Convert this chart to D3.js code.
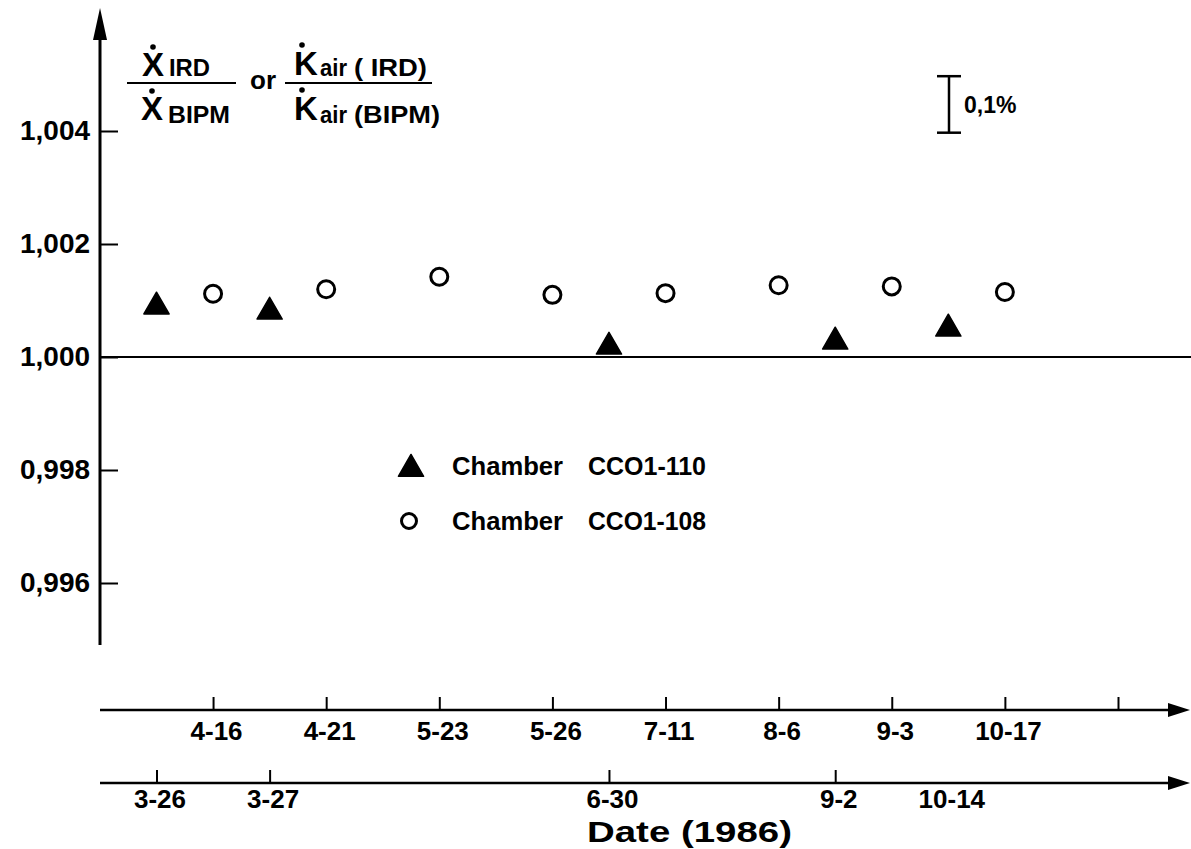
<!DOCTYPE html>
<html>
<head>
<meta charset="utf-8">
<script src="https://cdn.jsdelivr.net/npm/d3@7"></script>
<style>
  html, body { margin: 0; padding: 0; background: #fff; }
  svg { display: block; font-family: "Liberation Sans", Arial, Helvetica, sans-serif; }
</style>
</head>
<body>
<svg id="chart"></svg>
<script>
// y axis ticks
const yTickValues = [0.996, 0.998, 1.000, 1.002, 1.004];

// date axes: positions are measurement slots (order of the measurements)
const upperSlots = [1, 3, 5, 7, 9, 11, 13, 15, 17];
const upperLabels = ["4-16", "4-21", "5-23", "5-26", "7-11", "8-6", "9-3", "10-17", ""];
const lowerSlots = [0, 2, 8, 12, 14];
const lowerLabels = ["3-26", "3-27", "6-30", "9-2", "10-14"];
const lowerTickDrawn = [true, true, true, true, false];

// Chamber CCO1-110 (filled triangles)
const ch110Dates = ["3-26", "3-27", "6-30", "9-2", "10-14"];
const ch110Slots = [0, 2, 8, 12, 14];
const ch110Values = [1.00089, 1.00080, 1.00018, 1.00027, 1.00050];

// Chamber CCO1-108 (open circles)
const ch108Dates = ["4-16", "4-21", "5-23", "5-26", "7-11", "8-6", "9-3", "10-17"];
const ch108Slots = [1, 3, 5, 7, 9, 11, 13, 15];
const ch108Values = [1.00112, 1.00120, 1.00142, 1.00110, 1.00113, 1.00127, 1.00125, 1.00115];

const width = 1191, height = 849;
const axisX = 100;
const upperAxisY = 710, lowerAxisY = 783;
const fontBold = "bold";

const svg = d3.select("#chart")
    .attr("width", width)
    .attr("height", height);

svg.append("rect").attr("width", width).attr("height", height).attr("fill", "#fff");

const x = d3.scaleLinear().domain([0, 17]).range([156.5, 1118]);
const y = d3.scaleLinear().domain([0.996, 1.004]).range([583, 131]);

// ---- y axis ----
const yAxis = svg.append("g")
    .attr("transform", `translate(${axisX},0)`)
    .call(d3.axisLeft(y)
        .tickValues(yTickValues)
        .tickSize(-18)
        .tickPadding(10)
        .tickFormat(d => d3.format(".3f")(d).replace(".", ",")));
yAxis.select(".domain").remove();
yAxis.attr("font-family", null).attr("font-size", null);
yAxis.selectAll(".tick line").attr("stroke", "#000").attr("stroke-width", 2);
yAxis.selectAll(".tick text")
    .attr("fill", "#000")
    .attr("font-size", 27)
    .attr("font-weight", fontBold)
    .attr("textLength", 70)
    .attr("lengthAdjust", "spacingAndGlyphs");

// vertical axis line with arrow
svg.append("line")
    .attr("x1", axisX).attr("x2", axisX)
    .attr("y1", 645).attr("y2", 36)
    .attr("stroke", "#000").attr("stroke-width", 3);
svg.append("path")
    .attr("d", `M${axisX - 7},40 L${axisX},8 L${axisX + 7},40 Z`)
    .attr("fill", "#000");

// reference line at 1,000
svg.append("line")
    .attr("x1", axisX).attr("x2", width)
    .attr("y1", y(1.000)).attr("y2", y(1.000))
    .attr("stroke", "#000").attr("stroke-width", 2);

// ---- date axes ----
function dateAxis(yPos, slots, labels, drawn, pad) {
    const g = svg.append("g")
        .attr("transform", `translate(0,${yPos})`)
        .call(d3.axisBottom(x)
            .tickValues(slots)
            .tickSize(-13)
            .tickPadding(pad)
            .tickFormat((d, i) => labels[i]));
    g.select(".domain").remove();
    g.attr("font-family", null).attr("font-size", null);
    g.selectAll(".tick line")
        .attr("stroke", "#000").attr("stroke-width", 2)
        .attr("display", (d, i) => (drawn && !drawn[i]) ? "none" : null);
    g.selectAll(".tick text")
        .attr("fill", "#000")
        .attr("font-size", 26)
        .attr("font-weight", fontBold)
        .attr("transform", "translate(3,0)");
    g.append("line")
        .attr("x1", axisX).attr("x2", 1172)
        .attr("y1", 0).attr("y2", 0)
        .attr("stroke", "#000").attr("stroke-width", 2.5);
    g.append("path")
        .attr("d", "M1168,-7 L1190,0 L1168,7 Z")
        .attr("fill", "#000");
}
dateAxis(upperAxisY, upperSlots, upperLabels, null, 12);
dateAxis(lowerAxisY, lowerSlots, lowerLabels, lowerTickDrawn, 7);

svg.append("text")
    .attr("x", 587).attr("y", 842)
    .attr("font-size", 30).attr("font-weight", fontBold)
    .attr("textLength", 205).attr("lengthAdjust", "spacingAndGlyphs")
    .text("Date (1986)");

// ---- data points ----
const triangle = d3.symbol().type(d3.symbolTriangle).size(275);

svg.append("g").selectAll("path")
    .data(ch110Values.map((v, i) => ({date: ch110Dates[i], slot: ch110Slots[i], value: v})))
    .join("path")
        .attr("d", triangle)
        .attr("transform", d => `translate(${x(d.slot)},${y(d.value)})`)
        .attr("fill", "#000")
        .attr("stroke", "#000")
        .attr("stroke-width", 1.5)
        .attr("stroke-linejoin", "round");

svg.append("g").selectAll("circle")
    .data(ch108Values.map((v, i) => ({date: ch108Dates[i], slot: ch108Slots[i], value: v})))
    .join("circle")
        .attr("cx", d => x(d.slot))
        .attr("cy", d => y(d.value))
        .attr("r", 8.5)
        .attr("fill", "#fff")
        .attr("stroke", "#000")
        .attr("stroke-width", 3);

// ---- legend ----
const legend = svg.append("g");
legend.append("path")
    .attr("d", triangle)
    .attr("transform", "translate(411,469)")
    .attr("fill", "#000").attr("stroke", "#000").attr("stroke-width", 1.5)
    .attr("stroke-linejoin", "round");
legend.append("circle")
    .attr("cx", 409).attr("cy", 521).attr("r", 7.5)
    .attr("fill", "#fff").attr("stroke", "#000").attr("stroke-width", 3);
[["CCO1-110", 475], ["CCO1-108", 530]].forEach(([name, by]) => {
    legend.append("text").attr("x", 452).attr("y", by)
        .attr("font-size", 26).attr("font-weight", fontBold)
        .attr("textLength", 111).attr("lengthAdjust", "spacingAndGlyphs")
        .text("Chamber");
    legend.append("text").attr("x", 588).attr("y", by)
        .attr("font-size", 26).attr("font-weight", fontBold)
        .attr("textLength", 118).attr("lengthAdjust", "spacingAndGlyphs")
        .text(name);
});

// ---- y axis title (two fractions) ----
const title = svg.append("g").attr("font-weight", fontBold).attr("fill", "#000");

function dotted(letter, lx, by, dotX, dotY) {
    title.append("text").attr("x", lx).attr("y", by).attr("font-size", 33).text(letter);
    title.append("circle").attr("cx", dotX).attr("cy", dotY).attr("r", 2.8).attr("fill", "#000");
}
function sub(str, sx, by, len) {
    const t = title.append("text").attr("x", sx).attr("y", by).attr("font-size", 23).text(str);
    if (len) t.attr("textLength", len).attr("lengthAdjust", "spacingAndGlyphs");
}

dotted("X", 142, 76, 153, 47);
sub("IRD", 169, 76, 41);
title.append("line").attr("x1", 127).attr("x2", 236).attr("y1", 83).attr("y2", 83)
    .attr("stroke", "#000").attr("stroke-width", 2);
dotted("X", 141, 120, 152, 91);
sub("BIPM", 168, 123, 62);

title.append("text").attr("x", 250).attr("y", 89).attr("font-size", 26).text("or");

dotted("K", 294, 75, 302, 45);
sub("air", 320, 76, 27);
sub("( IRD)", 354, 76, 73);
title.append("line").attr("x1", 285).attr("x2", 432).attr("y1", 83).attr("y2", 83)
    .attr("stroke", "#000").attr("stroke-width", 2);
dotted("K", 294, 120, 302, 90);
sub("air", 320, 123, 27);
sub("(BIPM)", 354, 123, 86);

// ---- 0,1% scale bar ----
const bar = svg.append("g").attr("stroke", "#000").attr("stroke-width", 2.5);
const barX = 949, barTop = y(1.00497), barBottom = y(1.00397);
bar.append("line").attr("x1", barX).attr("x2", barX).attr("y1", barTop).attr("y2", barBottom);
bar.append("line").attr("x1", barX - 12).attr("x2", barX + 12).attr("y1", barTop).attr("y2", barTop);
bar.append("line").attr("x1", barX - 12).attr("x2", barX + 12).attr("y1", barBottom).attr("y2", barBottom);
svg.append("text").attr("x", 964).attr("y", 113)
    .attr("font-size", 23).attr("font-weight", fontBold)
    .text("0,1%");
</script>
</body>
</html>
